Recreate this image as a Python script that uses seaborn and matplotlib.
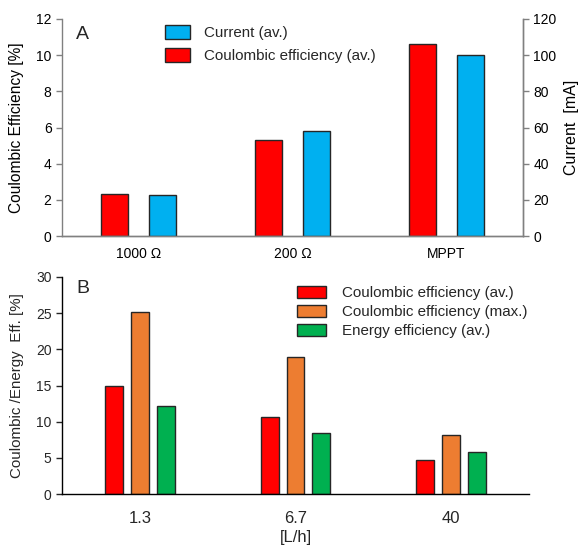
import matplotlib
matplotlib.use("Agg")
import matplotlib.pyplot as plt
import seaborn as sns
import pandas as pd
from matplotlib.patches import Patch

sns.set_theme(style="ticks")
plt.rcParams['font.family'] = ['Liberation Sans', 'DejaVu Sans']

# ---- data ----
loads = ["1000 Ω", "200 Ω", "MPPT"]
ce_avg_A = [2.35, 5.3, 10.6]
current_A = [22.5, 58, 100]

flows = ["1.3", "6.7", "40"]
ce_avg_B = [14.9, 10.6, 4.7]
ce_max_B = [25.2, 18.9, 8.2]
ee_avg_B = [12.2, 8.4, 5.8]

RED = "#FF0000"
BLUE = "#00B0F0"
ORANGE = "#ED7D31"
GREEN = "#00B050"
EDGE = "#262626"

W, H = 579, 547
fig = plt.figure(figsize=(W / 100, H / 100), dpi=100)

def rect(l, r, t, b):
    return [l / W, 1 - b / H, (r - l) / W, (b - t) / H]

axA = fig.add_axes(rect(62, 523, 19, 236))
axB = fig.add_axes(rect(62, 529, 277, 494))

# ---- panel A ----
dfA_ce = pd.DataFrame({"load": loads, "series": "ce", "value": ce_avg_A})
dfA_cur = pd.DataFrame({"load": loads, "series": "cur", "value": current_A})
palA = {"ce": RED, "cur": BLUE}

sns.barplot(data=dfA_ce, x="load", y="value", hue="series", hue_order=["ce", "cur"],
            order=loads, palette=palA, width=0.625, gap=0.44, errorbar=None,
            dodge=True, saturation=1,
            edgecolor=EDGE, linewidth=1, legend=False, ax=axA)
axA2 = axA.twinx()
sns.barplot(data=dfA_cur, x="load", y="value", hue="series", hue_order=["ce", "cur"],
            order=loads, palette=palA, width=0.625, gap=0.44, errorbar=None,
            dodge=True, saturation=1,
            edgecolor=EDGE, linewidth=1, legend=False, ax=axA2)

axA.set_xlim(-0.5, 2.5)
axA.set_ylim(0, 12)
axA.set_yticks(range(0, 13, 2))
axA2.set_ylim(0, 120)
axA2.set_yticks(range(0, 121, 20))
axA.set_xlabel("")
axA2.set_xlabel("")
axA.set_ylabel("Coulombic Efficiency [%]", fontsize=11.2, color="black")
axA2.set_ylabel("Current  [mA]", fontsize=11.5, color="black", labelpad=5)
axA.yaxis.set_label_coords(-0.083, 0.5)

GRAY = "#808080"
for ax in (axA, axA2):
    ax.spines["top"].set_visible(False)
    for s in ("left", "right", "bottom"):
        ax.spines[s].set_color(GRAY)
        ax.spines[s].set_linewidth(1)
    ax.tick_params(axis="y", direction="out", length=4, color=GRAY, labelsize=10,
                   labelcolor="black", width=1)
    ax.tick_params(axis="x", length=0, labelsize=10, labelcolor="black", pad=8)
axA2.spines["left"].set_visible(False)

axA.text(0.03, 0.97, "A", transform=axA.transAxes, fontsize=14, va="top", ha="left")

legA = axA.legend(handles=[Patch(facecolor=BLUE, edgecolor=EDGE, linewidth=1),
                           Patch(facecolor=RED, edgecolor=EDGE, linewidth=1)],
                  labels=["Current (av.)", "Coulombic efficiency (av.)"],
                  loc="upper left", bbox_to_anchor=(165 / W, 1 - 25 / H),
                  bbox_transform=fig.transFigure, frameon=False, fontsize=10.9,
                  handlelength=1.65, handleheight=1.05, labelspacing=0.52,
                  handletextpad=0.9, borderpad=0, borderaxespad=0)

# ---- panel B ----
series_B = ["Coulombic efficiency (av.)", "Coulombic efficiency (max.)", "Energy efficiency (av.)"]
dfB = pd.DataFrame({
    "flow": flows * 3,
    "series": [series_B[0]] * 3 + [series_B[1]] * 3 + [series_B[2]] * 3,
    "value": ce_avg_B + ce_max_B + ee_avg_B,
})
palB = dict(zip(series_B, [RED, ORANGE, GREEN]))
sns.barplot(data=dfB, x="flow", y="value", hue="series", hue_order=series_B,
            order=flows, palette=palB, width=0.495, gap=0.30, errorbar=None,
            dodge=True, saturation=1,
            edgecolor=EDGE, linewidth=1, ax=axB)
axB.set_xlim(-0.5, 2.5)
axB.set_ylim(0, 30)
axB.set_yticks(range(0, 31, 5))
axB.set_xlabel("[L/h]", fontsize=12, labelpad=3)
axB.set_ylabel("Coulombic /Energy  Eff. [%]", fontsize=10.9)
axB.yaxis.set_label_coords(-0.082, 0.5)
axB.spines["top"].set_visible(False)
axB.spines["right"].set_visible(False)
for s in ("left", "bottom"):
    axB.spines[s].set_color("black")
    axB.spines[s].set_linewidth(1)
axB.tick_params(axis="y", direction="out", length=4, labelsize=10, width=1)
axB.tick_params(axis="x", length=0, labelsize=12, pad=12)
axB.text(0.03, 0.985, "B", transform=axB.transAxes, fontsize=14, va="top", ha="left")

axB.legend(loc="upper left", bbox_to_anchor=(297 / W, 1 - 286 / H),
           bbox_transform=fig.transFigure, frameon=False, fontsize=10.9,
           handlelength=1.9, handleheight=0.8, labelspacing=0.33,
           handletextpad=1.05, borderpad=0, borderaxespad=0, title=None)

fig.savefig("out.png", dpi=100)
